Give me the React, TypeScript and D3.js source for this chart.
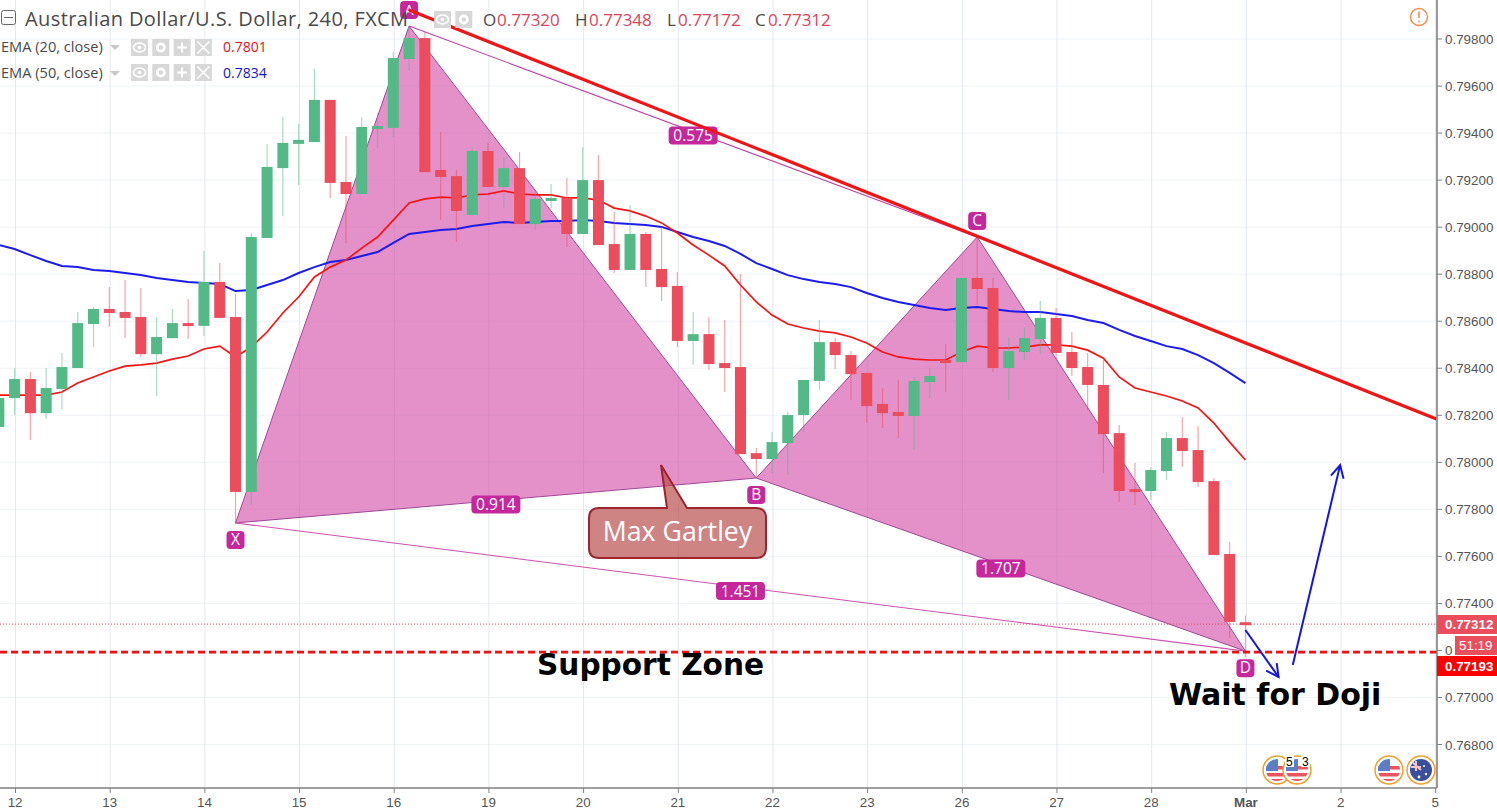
import React from "react";
import * as d3 from "d3";

// AUD/USD 240 candles, prices in points (1e-5)
const opens = [78150,78273,78354,78209,78312,78401,78588,78652,78639,78618,78460,78528,78592,78580,78767,78618,77874,78954,79251,79354,79362,79541,79192,79141,79422,79422,79715,79804,79243,79217,79052,79324,79171,79251,79013,79115,79124,78971,79200,78928,78818,78971,78822,78750,78516,78545,78422,78405,78039,78014,78082,78201,78346,78511,78456,78380,78248,78214,78197,78341,78435,78426,78784,78741,78401,78469,78524,78614,78469,78405,78329,78124,77886,77878,77963,78103,78052,77920,77610,77320];
const highs = [78290,78401,78384,78401,78465,78639,78660,78745,78775,78741,78618,78652,78694,78899,78847,78716,78975,79354,79468,79439,79673,79541,79388,79468,79485,79745,79851,79830,79405,79243,79341,79358,79298,79320,79149,79183,79209,79341,79307,79064,79094,78979,79001,78809,78639,78618,78605,78801,78061,78129,78214,78350,78605,78528,78473,78380,78316,78350,78363,78401,78503,78784,78958,78784,78533,78575,78686,78656,78554,78465,78435,78159,77997,77980,78129,78193,78154,77933,77661,77348];
const lows = [78150,78201,78095,78184,78227,78401,78490,78575,78528,78448,78282,78528,78524,78537,78614,77742,77818,78954,79047,79179,79362,79124,78933,79141,79337,79383,79664,79234,79030,78937,79052,79171,79081,79013,78988,79081,78916,78971,78924,78805,78818,78745,78686,78490,78414,78392,78299,78035,77933,77954,77946,78129,78307,78397,78265,78167,78146,78103,78052,78273,78299,78426,78669,78384,78265,78435,78460,78435,78367,78222,77954,77831,77818,77840,77925,77980,77895,77606,77253,77172];
const closes = [78273,78354,78209,78316,78405,78592,78652,78635,78614,78460,78533,78592,78580,78767,78614,77874,78958,79256,79358,79371,79541,79188,79141,79426,79430,79719,79804,79234,79213,79069,79324,79171,79251,79013,79120,79124,78971,79200,78924,78818,78971,78818,78745,78516,78545,78418,78401,78035,78014,78086,78201,78350,78511,78456,78375,78239,78209,78197,78346,78367,78426,78784,78737,78401,78473,78528,78614,78465,78401,78329,78120,77878,77878,77967,78103,78048,77916,77606,77321,77312];
const ema20 = [78286,78286,78286,78286,78299,78337,78363,78388,78409,78414,78422,78439,78452,78482,78494,78448,78490,78554,78635,78703,78788,78830,78860,78911,78958,79030,79103,79120,79128,79124,79137,79141,79154,79141,79137,79137,79124,79124,79115,79081,79069,79047,79018,78975,78924,78881,78835,78754,78682,78626,78588,78571,78558,78550,78533,78507,78469,78448,78439,78435,78435,78469,78494,78486,78486,78490,78499,78499,78494,78477,78443,78363,78316,78299,78282,78261,78231,78167,78086,78010];
const ema50 = [78924,78907,78881,78856,78835,78830,78818,78813,78805,78796,78784,78775,78767,78762,78758,78728,78733,78754,78775,78805,78830,78852,78860,78877,78894,78933,78971,78979,78988,78992,79005,79013,79022,79018,79022,79026,79026,79030,79026,79018,79013,79009,79001,78979,78958,78941,78920,78886,78847,78822,78796,78779,78767,78758,78745,78720,78699,78682,78669,78656,78648,78656,78660,78652,78643,78639,78639,78631,78622,78605,78592,78563,78537,78516,78494,78482,78456,78422,78380,78337];

const dayLabels = ["12","13","14","15","16","19","20","21","22","23","26","27","28","Mar","2","5"];
const priceTicks = [0.798,0.796,0.794,0.792,0.79,0.788,0.786,0.784,0.782,0.78,0.778,0.776,0.774,0.772,0.77,0.768];

// harmonic pattern points: candle position, price
const patternNames = ["X","A","B","C","D"];
const patternIdx = [15,26,48,62,79];
const patternPrice = [0.77742,0.79855,0.77933,0.78958,0.77197];
const ratioLabels = ["0.914","0.575","1.707","1.451"];
const ratioPairs = [[0,2],[1,3],[2,4],[0,4]];
const trendIdx = [26,91.1];
const trendPrice = [0.79923,0.78184];
const arrowDownIdx = [79,81.1];
const arrowDownPrice = [0.77287,0.77087];
const arrowUpIdx = [82,85];
const arrowUpPrice = [0.77138,0.77988];
const lastPrice = 0.77312;
const supportPrice = 0.77193;

const W = 1497;
const H = 812;
const plotRight = 1437;
const plotBottom = 788;

const uiFont = "'Open Sans', sans-serif";
const axisFont = "'Liberation Sans', Arial, sans-serif";
const boldFont = "'DejaVu Sans', sans-serif";
const up = "#53b987";
const down = "#eb4d5c";
const magenta = "#c4289b";

const x = d3.scaleLinear().domain([0, 79]).range([-1.18, 1245.44]);
const y = d3.scaleLinear().domain([0.798, 0.768]).range([39, 744.5]);
const pt = (v: number) => v / 1e5;

const emaLine = d3
  .line<number>()
  .x((_, i) => x(i))
  .y((d) => y(pt(d)));

const arrowHead = (x0: number, y0: number, x1: number, y1: number) => {
  const a = Math.atan2(y1 - y0, x1 - x0);
  const wing = (s: number) => `${x1 - 14 * Math.cos(a + s)},${y1 - 14 * Math.sin(a + s)}`;
  return `M${wing(0.48)}L${x1},${y1}L${wing(-0.48)}`;
};

const Buttons = ({ bx, by, n }: { bx: number; by: number; n: number }) => (
  <g>
    {d3.range(n).map((k) => {
      const cx = bx + k * 21.3 + 8.5;
      const cy = by + 8.5;
      return (
        <g key={k}>
          <rect x={cx - 8.5} y={by} width={17} height={17} fill="#d8d8d8" />
          {k === 0 && <ellipse cx={cx} cy={cy} rx={6} ry={4.5} fill="none" stroke="#fff" strokeWidth={1.6} />}
          {k === 0 && <circle cx={cx} cy={cy} r={1.8} fill="#fff" />}
          {k === 1 && <circle cx={cx} cy={cy} r={3.6} fill="none" stroke="#fff" strokeWidth={2.6} />}
          {k === 2 && <path d={`M${cx - 5},${cy}H${cx + 5}M${cx},${cy - 5}V${cy + 5}`} stroke="#fff" strokeWidth={2} />}
          {k === 3 && <path d={`M${cx - 6},${cy - 6}L${cx + 6},${cy + 6}M${cx + 6},${cy - 6}L${cx - 6},${cy + 6}`} stroke="#fff" strokeWidth={1.6} />}
        </g>
      );
    })}
  </g>
);

const Flag = ({ cx, id, kind }: { cx: number; id: string; kind: "us" | "au" }) => {
  const cy = 770;
  return (
    <g>
      <clipPath id={id}>
        <circle cx={cx} cy={cy} r={11} />
      </clipPath>
      <circle cx={cx} cy={cy} r={14} fill="#fff" stroke="#f0a030" strokeWidth={1.5} />
      {kind === "us" ? (
        <g clipPath={`url(#${id})`}>
          <rect x={cx - 11} y={cy - 11} width={22} height={22} fill="#fff" />
          <rect x={cx - 11} y={cy - 4} width={22} height={3.5} fill="#e85560" />
          <rect x={cx - 11} y={cy + 3} width={22} height={3.5} fill="#e85560" />
          <rect x={cx - 11} y={cy + 9} width={22} height={3} fill="#e85560" />
          <rect x={cx - 11} y={cy - 11} width={12} height={12} fill="#5b7fc4" />
        </g>
      ) : (
        <g clipPath={`url(#${id})`}>
          <rect x={cx - 11} y={cy - 11} width={22} height={22} fill="#3a4f9e" />
          <path d={`M${cx - 10},${cy - 9}L${cx},${cy}M${cx - 10},${cy - 3}H${cx}M${cx - 5},${cy - 9}V${cy + 1}`} stroke="#f4c4c8" strokeWidth={2} />
          <circle cx={cx + 5} cy={cy + 4} r={1.2} fill="#fff" />
          <circle cx={cx + 3} cy={cy - 4} r={1} fill="#fff" />
          <circle cx={cx - 2} cy={cy + 7} r={1.4} fill="#fff" />
        </g>
      )}
    </g>
  );
};

export default function App() {
  const px = patternIdx.map((d) => x(d));
  const py = patternPrice.map((d) => y(d));
  const tri = (a: number, b: number, c: number) =>
    `M${px[a]},${py[a]}L${px[b]},${py[b]}L${px[c]},${py[c]}Z`;
  const dn = [x(arrowDownIdx[0]), y(arrowDownPrice[0]), x(arrowDownIdx[1]), y(arrowDownPrice[1])];
  const upA = [x(arrowUpIdx[0]), y(arrowUpPrice[0]), x(arrowUpIdx[1]), y(arrowUpPrice[1])];

  return (
    <svg width={W} height={H} style={{ position: "absolute", left: 0, top: 0, background: "#fff" }}>
      <defs>
        <clipPath id="plot">
          <rect x={0} y={0} width={plotRight} height={plotBottom} />
        </clipPath>
      </defs>

      {/* grid */}
      {priceTicks.map((t) => (
        <line key={t} x1={0} x2={plotRight} y1={y(t)} y2={y(t)} stroke="#f0f3f8" />
      ))}
      {dayLabels.map((_, k) => (
        <line key={k} x1={x(1 + k * 6) + 0.9} x2={x(1 + k * 6) + 0.9} y1={0} y2={plotBottom} stroke="#e4e8f0" />
      ))}

      <g clipPath="url(#plot)">
        {/* pattern fill */}
        <path d={tri(0, 1, 2)} fill="#d456aa" fillOpacity={0.65} stroke="#a0489a" strokeWidth={1} />
        <path d={tri(2, 3, 4)} fill="#d456aa" fillOpacity={0.65} stroke="#a0489a" strokeWidth={1} />

        <path d={emaLine(ema50) ?? ""} fill="none" stroke="#1c1cf0" strokeWidth={2} />
        <path d={emaLine(ema20) ?? ""} fill="none" stroke="#f51414" strokeWidth={1.7} />

        {/* candles */}
        {opens.map((o, i) => {
          const c = closes[i];
          const col = c >= o ? up : down;
          const cx = x(i);
          const top = y(pt(Math.max(o, c)));
          const bot = y(pt(Math.min(o, c)));
          return (
            <g key={i}>
              <line x1={cx} x2={cx} y1={y(pt(highs[i]))} y2={y(pt(lows[i]))} stroke={col} strokeOpacity={0.5} strokeWidth={1.2} />
              <rect x={cx - 5.5} y={top} width={11} height={Math.max(bot - top, 3)} fill={col} />
            </g>
          );
        })}

        {/* outer legs */}
        <line x1={px[0]} y1={py[0]} x2={px[4]} y2={py[4]} stroke="#d050b0" strokeWidth={1.1} />
        <line x1={px[1]} y1={py[1]} x2={px[3]} y2={py[3]} stroke="#c040a8" strokeWidth={1.1} />

        {/* last price and support */}
        <line x1={0} x2={plotRight} y1={y(lastPrice)} y2={y(lastPrice)} stroke={down} strokeDasharray="1 2" />
        <line x1={0} x2={plotRight} y1={y(supportPrice)} y2={y(supportPrice)} stroke="#f01010" strokeWidth={2.6} strokeDasharray="7 4" />

        {/* arrows */}
        <g fill="none" stroke="#1414e0" strokeWidth={2}>
          <line x1={dn[0]} y1={dn[1]} x2={dn[2]} y2={dn[3]} />
          <path d={arrowHead(dn[0], dn[1], dn[2], dn[3])} />
          <line x1={upA[0]} y1={upA[1]} x2={upA[2]} y2={upA[3]} />
          <path d={arrowHead(upA[0], upA[1], upA[2], upA[3])} />
        </g>
      </g>

      {/* ratio labels */}
      {ratioPairs.map(([a, b], k) => {
        const mx = (px[a] + px[b]) / 2;
        const my = (py[a] + py[b]) / 2 + 4;
        return (
          <g key={k}>
            <rect x={mx - 24.5} y={my - 9} width={49} height={18} rx={4} fill={magenta} />
            <text x={mx} y={my + 5.5} textAnchor="middle" fontFamily={uiFont} fontSize={15.5} fill="#fff">
              {ratioLabels[k]}
            </text>
          </g>
        );
      })}

      {/* point labels */}
      {patternNames.map((n, k) => {
        const isA = n === "A";
        const cy = isA ? 10 : n === "C" ? py[k] - 16 : py[k] + 17;
        return (
          <g key={n}>
            <rect x={px[k] - 9} y={cy - 9} width={18} height={18} rx={4} fill={magenta} />
            <text x={px[k]} y={cy + 5} textAnchor="middle" fontFamily={uiFont} fontSize={isA ? 14 : 15.5} fill="#fff">
              {n}
            </text>
          </g>
        );
      })}

      {/* trend line sits over the labels */}
      <line
        clipPath="url(#plot)"
        x1={x(trendIdx[0])}
        y1={y(trendPrice[0])}
        x2={x(trendIdx[1])}
        y2={y(trendPrice[1])}
        stroke="#f01414"
        strokeWidth={3.2}
      />

      {/* callout */}
      <path
        d="M599,508H667L661,465L687,508H756Q766,508 766,518V548Q766,558 756,558H599Q589,558 589,548V518Q589,508 599,508Z"
        fill="#b84a4a"
        fillOpacity={0.68}
        stroke="#9c2530"
        strokeWidth={2}
      />
      <text x={677.5} y={541} textAnchor="middle" fontFamily={uiFont} fontSize={26.7} fill="#fff">
        Max Gartley
      </text>

      <text x={537} y={675} fontFamily={boldFont} fontWeight="bold" fontSize={29.6} fill="#000">
        Support Zone
      </text>
      <text x={1169} y={705} fontFamily={boldFont} fontWeight="bold" fontSize={30} fill="#000">
        Wait for Doji
      </text>

      {/* header */}
      <rect x={1.5} y={10.5} width={14} height={14} rx={2} fill="#fff" stroke="#666" />
      <line x1={4} x2={13} y1={17.5} y2={17.5} stroke="#666" />
      <text x={25} y={26} fontFamily={uiFont} fontSize={20} letterSpacing={0.4} fill="#4a4a4a">
        Australian Dollar/U.S. Dollar, 240, FXCM
      </text>
      <Buttons bx={434} by={11} n={2} />
      {[["O", "0.77320", 483, 497], ["H", "0.77348", 575, 589], ["L", "0.77172", 667, 678], ["C", "0.77312", 755, 768]].map(([a, b, x0, x1]) => (
        <g key={a as string} fontFamily={uiFont} fontSize={17}>
          <text x={x0 as number} y={26} fill="#4a4a4a">{a}</text>
          <text x={x1 as number} y={26} fill="#d9455a">{b}</text>
        </g>
      ))}

      <g fontFamily={uiFont} fontSize={14.6}>
        <text x={1} y={52} fill="#4a4a4a">EMA (20, close)</text>
        <text x={1} y={78} fill="#4a4a4a">EMA (50, close)</text>
        <text x={223} y={52} fill="#e01020" fontSize={14}>0.7801</text>
        <text x={223} y={78} fill="#1414c8" fontSize={14}>0.7834</text>
      </g>
      <path d="M110,45h10l-5,5z M110,71h10l-5,5z" fill="#c8c8c8" />
      <Buttons bx={131} by={39} n={4} />
      <Buttons bx={131} by={64} n={4} />

      {/* info icon */}
      <circle cx={1419} cy={17} r={8.5} fill="#fff" stroke="#f09050" strokeWidth={1.5} />
      <path d="M1419,11.5V18M1419,20.5V22.5" stroke="#f09050" strokeWidth={1.6} />

      {/* axes */}
      <line x1={plotRight} x2={plotRight} y1={0} y2={plotBottom} stroke="#808080" strokeWidth={1.6} />
      <line x1={0} x2={plotRight} y1={plotBottom} y2={plotBottom} stroke="#808080" strokeWidth={1.6} />
      {priceTicks.map((t) => (
        <g key={t}>
          <line x1={plotRight} x2={plotRight + 5} y1={y(t)} y2={y(t)} stroke="#808080" />
          <text x={1445} y={y(t) + 5} fontFamily={axisFont} fontSize={13.4} fill="#555">
            {/* the countdown tag hides all but the first digit of 0.77200 */}
            {t === 0.772 ? "0" : d3.format(".5f")(t)}
          </text>
        </g>
      ))}
      {dayLabels.map((d, k) => (
        <g key={d}>
          <line x1={x(1 + k * 6) + 0.9} x2={x(1 + k * 6) + 0.9} y1={plotBottom} y2={plotBottom + 5} stroke="#808080" />
          <text x={x(1 + k * 6) + 0.5} y={807} textAnchor="middle" fontFamily={axisFont} fontSize={13.4} fontWeight={d === "Mar" ? "bold" : "normal"} fill="#555">
            {d}
          </text>
        </g>
      ))}

      {/* price tags */}
      <rect x={1437} y={615} width={60} height={19} fill={down} />
      <text x={1445} y={629} fontFamily={axisFont} fontSize={13.4} fontWeight="bold" fill="#fff">0.77312</text>
      <rect x={1455} y={636} width={42} height={19} fill={down} />
      <text x={1459} y={650} fontFamily={axisFont} fontSize={13.4} fill="#fff">51:19</text>
      <rect x={1437} y={656} width={60} height={20} fill="#ff0000" />
      <text x={1445} y={671} fontFamily={axisFont} fontSize={13.4} fontWeight="bold" fill="#fff">0.77193</text>

      {/* events */}
      <Flag cx={1277} id="f1" kind="us" />
      <Flag cx={1297} id="f2" kind="us" />
      <Flag cx={1389} id="f3" kind="us" />
      <Flag cx={1421} id="f4" kind="au" />
      <g fontFamily={axisFont} fontSize={12} fill="#000">
        <rect x={1285} y={755} width={9} height={12} fill="#fff" />
        <rect x={1301} y={755} width={9} height={12} fill="#fff" />
        <text x={1286} y={766}>5</text>
        <text x={1302} y={766}>3</text>
      </g>
    </svg>
  );
}
